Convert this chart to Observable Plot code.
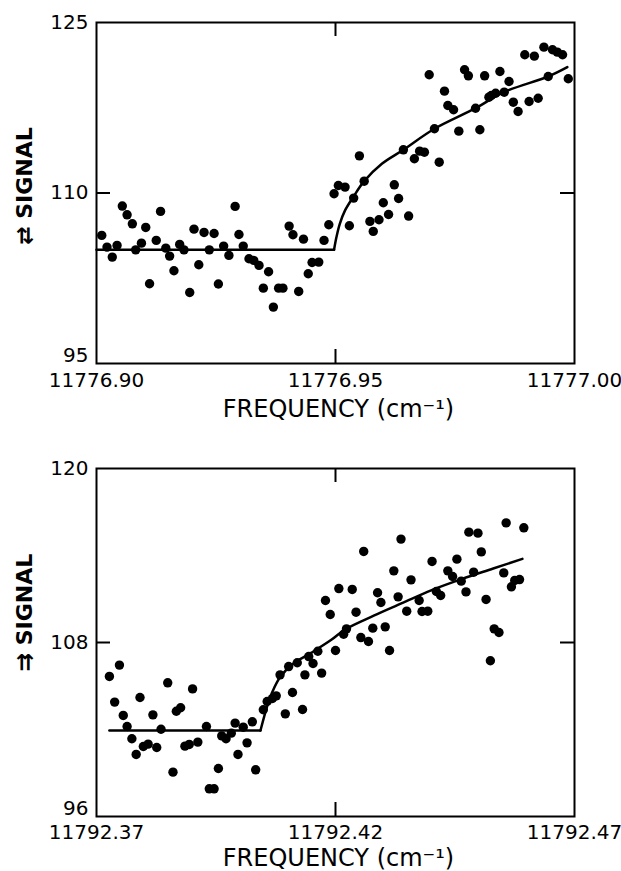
<!DOCTYPE html>
<html><head><meta charset="utf-8">
<script src="https://cdn.jsdelivr.net/npm/d3@7"></script>
<script src="https://cdn.jsdelivr.net/npm/@observablehq/plot@0.6"></script>
<style>
body{margin:0;background:#fff;}
#chart{width:621px;}
#chart svg{display:block;}
g[aria-label="xlabel"] text{letter-spacing:5px;}
g[aria-label="ylabel"] text{letter-spacing:2.5px;}
</style></head><body><div id="chart"></div>
<script>
// ---------- Panel 1 ----------
const xTicks1 = [11776.90, 11776.95, 11777.00];
const yTicks1 = [95, 110, 125];
const freq1 = [11776.9011,11776.9022,11776.9033,11776.9043,11776.9054,11776.9064,11776.9075,11776.9082,11776.9094,11776.9103,
11776.9111,11776.9125,11776.9134,11776.9145,11776.9153,11776.9162,11776.9174,11776.9183,11776.9195,11776.9204,
11776.9214,11776.9225,11776.9236,11776.9246,11776.9255,11776.9266,11776.9277,11776.9290,11776.9298,11776.9307,
11776.9319,11776.9329,11776.9340,11776.9349,11776.9360,11776.9370,11776.9381,11776.9390,11776.9403,11776.9411,
11776.9423,11776.9433,11776.9443,11776.9451,11776.9465,11776.9476,11776.9486,
11776.9497,11776.9506,11776.9520,11776.9529,11776.9538,11776.9550,11776.9560,11776.9572,11776.9579,11776.9591,
11776.9600,11776.9611,11776.9623,11776.9632,11776.9642,11776.9653,11776.9665,11776.9676,11776.9686,11776.9696,
11776.9707,11776.9717,11776.9728,11776.9735,11776.9747,11776.9758,11776.9770,11776.9778,11776.9793,11776.9802,
11776.9812,11776.9821,11776.9826,11776.9835,11776.9844,11776.9853,11776.9863,11776.9872,11776.9882,11776.9896,
11776.9905,11776.9916,11776.9924,11776.9936,11776.9945,11776.9954,11776.9964,11776.9975,11776.9987];
const signal1 = [106.27,105.24,104.36,105.39,108.85,108.08,107.29,105.0,105.59,106.97,
102.02,105.83,108.38,105.15,104.45,103.16,105.48,105.0,101.25,106.82,
103.69,106.53,105.0,106.44,101.99,105.33,104.51,108.82,106.35,105.33,
104.22,104.07,103.63,101.63,103.07,99.96,101.63,101.63,107.09,106.33,
101.34,105.94,102.9,103.89,103.92,105.83,107.21,
109.93,110.66,110.52,107.12,109.55,113.27,111.04,107.5,106.62,107.65,
109.14,108.11,110.72,109.52,113.8,107.97,113.01,113.68,113.59,120.4,
115.65,112.71,118.96,117.7,117.32,115.44,120.84,120.31,117.46,115.56,
120.31,118.43,118.58,118.78,120.69,118.87,119.81,117.99,117.17,122.16,
118.05,122.04,118.34,122.83,120.25,122.6,122.39,122.16,120.05];
const fitFreq1 = [11776.9000,11776.9497,11776.9502,11776.9509,11776.9520,11776.9538,11776.9560,11776.9597,11776.9642,11776.9707,11776.9793,11776.9852,11776.9945,11776.9985];
const fitSignal1 = [105.0,105.0,106.12,107.29,108.47,109.7,111.04,112.57,113.8,115.65,117.46,118.87,120.25,121.07];

// ---------- Panel 2 ----------
const xTicks2 = [11792.37, 11792.42, 11792.47];
const yTicks2 = [96, 108, 120];
const freq2 = [11792.3727,11792.3738,11792.3748,11792.3756,11792.3764,11792.3774,11792.3783,11792.3791,11792.3798,11792.3808,
11792.3818,11792.3826,11792.3835,11792.3849,11792.3860,11792.3867,11792.3876,11792.3885,11792.3894,11792.3901,
11792.3912,11792.3930,11792.3936,11792.3946,11792.3955,11792.3962,11792.3971,11792.3982,11792.3990,11792.3996,
11792.4007,11792.4015,11792.4026,11792.4033,11792.4049,11792.4057,11792.4068,11792.4076,11792.4084,11792.4095,
11792.4102,11792.4110,11792.4120,11792.4131,11792.4136,11792.4144,11792.4153,11792.4163,11792.4171,11792.4179,
11792.4189,
11792.4200,11792.4207,11792.4217,11792.4223,11792.4235,11792.4243,11792.4253,11792.4259,11792.4269,11792.4278,
11792.4288,11792.4295,11792.4304,11792.4313,11792.4322,11792.4331,11792.4337,11792.4349,11792.4358,11792.4375,
11792.4381,11792.4393,11792.4402,11792.4411,11792.4420,11792.4435,11792.4445,11792.4454,11792.4463,11792.4473,
11792.4479,11792.4489,11792.4498,11792.4505,11792.4515,11792.4524,11792.4532,11792.4542,11792.4552,11792.4557,
11792.4568,11792.4575,11792.4585,11792.4594];
const signal2 = [105.66,103.89,106.44,102.97,102.21,101.36,100.28,104.21,100.83,100.99,
103.01,100.76,102.02,105.22,99.06,103.26,103.5,100.85,100.97,104.8,
101.13,102.21,97.91,97.91,99.31,101.56,101.36,101.75,102.44,100.28,
102.16,101.08,102.53,99.22,103.36,103.93,104.14,104.32,105.77,103.08,
106.34,104.55,106.6,103.38,105.77,107.03,106.55,107.4,105.89,110.9,
109.93,
107.45,111.72,108.57,108.94,111.66,110.09,108.34,114.28,108.07,108.99,
111.43,110.76,109.08,107.45,112.94,111.15,115.13,110.16,112.32,110.9,
110.14,110.16,113.59,111.52,111.24,112.94,112.55,113.75,112.23,111.49,
115.61,112.85,115.54,114.25,110.97,106.74,108.94,108.69,112.8,116.25,
111.84,112.28,112.34,115.91];
const fitFreq2 = [11792.3727,11792.4043,11792.4057,11792.4068,11792.4084,11792.4110,11792.4150,11792.4192,11792.4220,11792.4280,11792.4339,11792.4400,11792.4465,11792.4530,11792.4591];
const fitSignal2 = [101.93,101.93,103.6,104.6,105.6,106.5,107.3,108.2,108.9,109.85,110.71,111.6,112.39,113.1,113.77];

const FONT = '"DejaVu Sans",sans-serif';

function panel({freq, signal, fitFreq, fitSignal, xTicks, yTicks, ylabel, height, marginTop, marginBottom, tickPad, xlabelDy, ylabelDy}) {
  const W = 621 - 96 - 47;
  const H = height - marginTop - marginBottom;
  const pts = freq.map((f, i) => ({f, s: signal[i]}));
  const fit = fitFreq.map((f, i) => ({f, s: fitSignal[i]}));
  const flat = fit.slice(0, 2), rise = fit.slice(1);
  const xMid = [xTicks[1]], yMid = [yTicks[1]];
  return Plot.plot({
    width: 621, height, marginLeft: 96, marginRight: 47, marginTop, marginBottom,
    style: {fontFamily: FONT, background: "white", color: "black", overflow: "visible"},
    x: {domain: [xTicks[0], xTicks[2]]},
    y: {domain: [yTicks[0], yTicks[2]]},
    marks: [
      Plot.frame({stroke: "black", strokeWidth: 2}),
      Plot.ruleX(xMid, {insetTop: H - 14, strokeWidth: 2}),
      Plot.ruleX(xMid, {insetBottom: H - 14, strokeWidth: 2}),
      Plot.ruleY(yMid, {insetRight: W - 14, strokeWidth: 2}),
      Plot.ruleY(yMid, {insetLeft: W - 14, strokeWidth: 2}),
      Plot.axisX(xTicks, {tickSize: 0, tickPadding: tickPad, tickFormat: d3.format(".2f"), fontSize: 20, label: null}),
      Plot.axisY(yTicks.slice(1), {tickSize: 0, tickPadding: 8, fontSize: 20, label: null}),
      Plot.axisY(yTicks.slice(0, 1), {tickSize: 0, tickPadding: 8, fontSize: 20, dy: -8, label: null}),
      Plot.line(flat, {x: "f", y: "s", stroke: "black", strokeWidth: 2.5}),
      Plot.line(rise, {x: "f", y: "s", stroke: "black", strokeWidth: 2.5, curve: "catmull-rom"}),
      Plot.dot(pts, {x: "f", y: "s", r: 4.7, fill: "black", stroke: null}),
      Plot.text(["FREQUENCY (cm⁻¹)"], {frameAnchor: "bottom", dy: xlabelDy, dx: 3, fontSize: 24, ariaLabel: "xlabel", lineAnchor: "middle", textAnchor: "middle"}),
      Plot.text([ylabel + " SIGNAL"], {frameAnchor: "left", dx: -72, dy: ylabelDy, rotate: -90, fontSize: 22, fontWeight: "bold", textAnchor: "middle", ariaLabel: "ylabel"})
    ]
  });
}

const chart = document.getElementById("chart");
chart.append(panel({freq: freq1, signal: signal1, fitFreq: fitFreq1, fitSignal: fitSignal1,
  xTicks: xTicks1, yTicks: yTicks1, ylabel: "⇄", height: 430, marginTop: 22, marginBottom: 67,
  tickPad: 9, xlabelDy: 46, ylabelDy: -7}));
chart.append(panel({freq: freq2, signal: signal2, fitFreq: fitFreq2, fitSignal: fitSignal2,
  xTicks: xTicks2, yTicks: yTicks2, ylabel: "⇉", height: 441, marginTop: 38, marginBottom: 55,
  tickPad: 8, xlabelDy: 42, ylabelDy: -30}));
</script></body></html>
